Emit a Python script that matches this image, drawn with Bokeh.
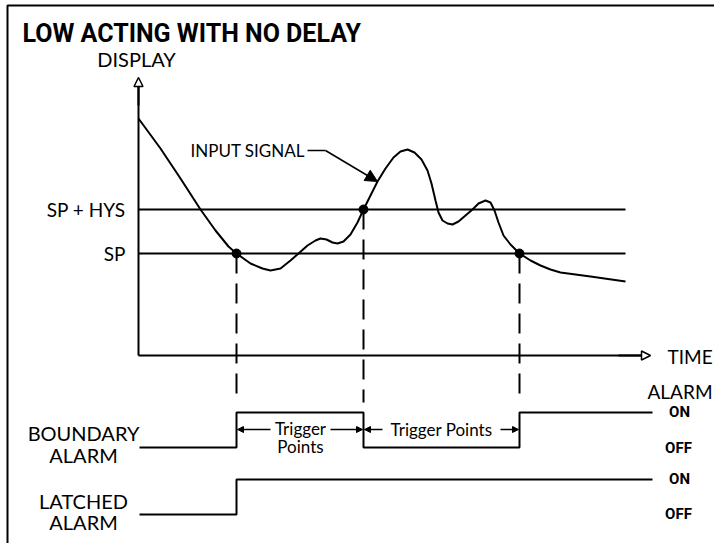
from bokeh.plotting import figure
from bokeh.models import Range1d, Arrow, NormalHead
from bokeh.core.properties import value
from bokeh.embed import file_html
from bokeh.resources import INLINE

# ---------------- data (time units / display units) ----------------
signal_t = [0, 22, 42, 62, 77, 90, 98, 112, 124, 132, 142, 152, 160, 169, 177, 182, 188,
            194, 199, 205, 212, 219, 225, 232, 239, 247, 255, 262, 269, 276, 283, 289,
            293, 297, 300, 304, 309, 314, 320, 327, 334, 340, 347, 352, 356, 360, 365,
            372, 381, 392, 402, 412, 422, 452, 487]
signal_v = [237, 207, 177, 146, 125, 109, 102, 92, 87, 85, 87, 95, 102, 110, 115, 117, 116,
            113, 112, 114, 121, 133, 146, 160, 174, 187, 198, 204, 206, 203, 196, 185,
            172, 155, 143, 135, 132, 131, 134, 140, 146, 152, 155, 153, 145, 133, 120,
            111, 102, 95, 90, 86, 83, 79, 74]
sp = 102
sp_hys = 146
trigger_t = [98, 225, 381]
trigger_v = [102, 146, 102]
t_end_lines = 487
t_end_alarm = 514

boundary_t = [1, 98, 98, 225, 225, 381, 381, t_end_alarm]
boundary_state = [0, 0, 1, 1, 0, 0, 1, 1]
latched_t = [1, 98, 98, t_end_alarm]
latched_state = [0, 0, 1, 1]

level_labels = ["SP + HYS", "SP"]
state_labels = ["ON", "OFF", "ON", "OFF"]

# ---------------- layout helpers ----------------
BOUNDARY_OFF, LATCHED_OFF, STEP = -92, -159, 35
boundary_v = [BOUNDARY_OFF + s * STEP for s in boundary_state]
latched_v = [LATCHED_OFF + s * STEP for s in latched_state]

BODY = value("Lato")
BOLD = value("Roboto")

X0, X1, Y0, Y1 = -138, 576, -188, 355
p = figure(width=714, height=543, x_range=Range1d(X0, X1), y_range=Range1d(Y0, Y1),
           output_backend="svg", toolbar_location=None, min_border=0,
           outline_line_color=None)
p.axis.visible = False
p.grid.visible = False
p.background_fill_color = "white"

# frame
p.line([-131, -131, X1], [Y0, 350, 350], line_color="black", line_width=2)

# title
p.text([-116], [322], text=["LOW ACTING WITH NO DELAY"], text_font=BOLD, text_font_style="bold",
       text_font_size="25px", text_baseline="alphabetic", text_align="left", text_color="black")

# axes
p.segment([0], [0], [0], [272], line_color="black", line_width=2)
p.add_layout(Arrow(end=NormalHead(size=9, fill_color="white", line_color="black", line_width=1.5),
                   x_start=0, y_start=250, x_end=0, y_end=278, line_width=2, line_color="black"))
p.segment([0], [0], [506], [0], line_color="black", line_width=2)
p.add_layout(Arrow(end=NormalHead(size=9, fill_color="white", line_color="black", line_width=1.5),
                   x_start=480, y_start=0, x_end=512, y_end=0, line_width=2, line_color="black"))

p.text([-2], [297], text=["DISPLAY"], text_font=BODY, text_font_size="20px",
       text_align="center", text_baseline="middle")
p.text([529], [-1], text=["TIME"], text_font=BODY, text_font_size="19px",
       text_align="left", text_baseline="middle")

# level lines
p.segment([0, 0], [sp_hys, sp], [t_end_lines, t_end_lines], [sp_hys, sp],
          line_color="black", line_width=2)
p.text([-13, -13], [sp_hys, sp], text=level_labels, text_font=BODY, text_font_size="19px",
       text_align="right", text_baseline="middle")

# signal
p.line(signal_t, signal_v, line_color="black", line_width=2)
p.text([52], [205], text=["INPUT SIGNAL"], text_font=BODY, text_font_size="17px",
       text_align="left", text_baseline="middle")
p.line([169, 187], [205, 205], line_color="black", line_width=1.5)
p.add_layout(Arrow(end=NormalHead(size=12, fill_color="black", line_color="black"),
                   x_start=187, y_start=205, x_end=239, y_end=174, line_width=1.5,
                   line_color="black"))

# trigger dashed lines + dots
p.segment(trigger_t, trigger_v, trigger_t, [-47] * 3, line_color="black", line_width=2,
          line_dash="20 10")
p.scatter(trigger_t, trigger_v, size=9, color="black")

# alarm traces
p.line(boundary_t, boundary_v, line_color="black", line_width=2)
p.line(latched_t, latched_v, line_color="black", line_width=2)

p.text([-55, -55, -55, -55], [-77, -99, -145, -166],
       text=["BOUNDARY", "ALARM", "LATCHED", "ALARM"], text_font=BODY, text_font_size="20px",
       text_align="center", text_baseline="middle")
p.text([509], [-36], text=["ALARM"], text_font=BODY, text_font_size="19px",
       text_align="left", text_baseline="middle")
p.text([541, 540, 541, 540], [-56, -92, -123, -158], text=state_labels, text_font=BOLD,
       text_font_style="bold", text_font_size="15px", text_align="center", text_baseline="middle")

# trigger point annotations
p.text([162, 162], [-73, -91], text=["Trigger", "Points"], text_font=BODY,
       text_font_size="17px", text_align="center", text_baseline="middle")
p.text([303], [-74], text=["Trigger Points"], text_font=BODY,
       text_font_size="17px", text_align="center", text_baseline="middle")
for xs, xe in [(132, 99), (192, 224), (244, 226), (362, 380)]:
    p.add_layout(Arrow(end=NormalHead(size=6, fill_color="black", line_color="black"),
                       x_start=xs, y_start=-74, x_end=xe, y_end=-74, line_width=1.5,
                       line_color="black"))

open("out.html", "w").write(file_html(p, INLINE))
